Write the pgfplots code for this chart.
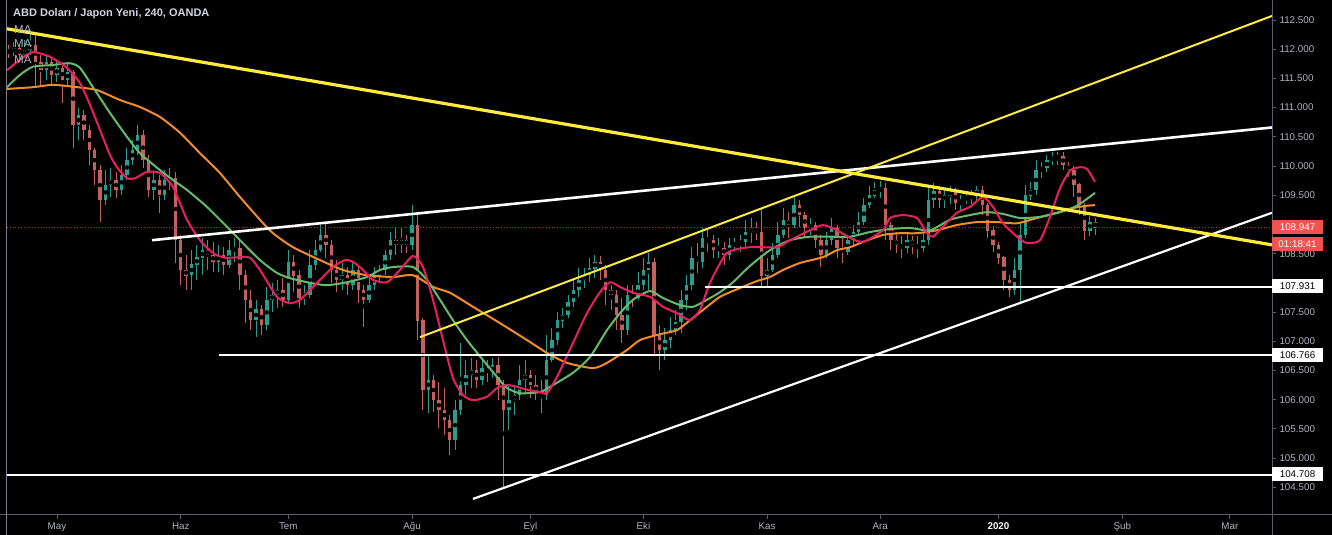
\documentclass[border=0pt]{standalone}
\usepackage{pgfplots}
\pgfplotsset{compat=1.18}
\usepackage{pgfplotstable}
\usepackage{fontspec}
\setmainfont{Liberation Sans}
\definecolor{upc}{HTML}{2A9D8F}
\definecolor{dnc}{HTML}{C4615C}
\definecolor{mared}{HTML}{E91E63}
\definecolor{magreen}{HTML}{66BB6A}
\definecolor{maorange}{HTML}{F28C28}
\definecolor{tvyellow}{HTML}{FFEB3B}
\definecolor{axisgray}{HTML}{5D606B}
\definecolor{lab}{HTML}{B2B5BE}
\definecolor{titlec}{HTML}{D1D4DC}
\definecolor{tvred}{HTML}{EF5350}
\definecolor{dotred}{HTML}{9A3434}

\pgfplotstableread{
d o h l c
-8 111.95 112.12 111.88 112.02
-6 111.90 112.16 111.85 111.99
-5 111.99 112.33 111.90 112.07
-2 111.64 111.90 111.47 111.78
0 111.56 111.82 111.44 111.68
2 111.47 111.78 111.39 111.61
4 110.70 110.99 110.45 110.87
9 109.42 109.93 109.33 109.68
10 109.68 109.97 109.47 109.76
12 109.59 110.02 109.50 109.85
13 109.85 110.31 109.76 110.10
14 110.10 110.45 110.02 110.27
15 110.27 110.70 110.19 110.53
18 109.59 109.90 109.42 109.76
20 109.50 109.93 109.42 109.76
21 109.76 109.97 109.59 109.80
25 108.13 108.56 107.88 108.31
26 108.31 108.65 108.05 108.43
27 108.43 108.77 108.13 108.56
30 108.36 108.65 108.19 108.48
32 108.31 108.73 108.25 108.56
33 108.56 108.77 108.36 108.60
37 107.36 107.71 107.07 107.54
39 107.28 107.93 107.19 107.71
40 107.71 108.00 107.50 107.79
41 107.79 108.05 107.57 107.88
43 107.71 108.56 107.67 108.36
46 107.74 107.96 107.62 107.79
47 107.79 108.56 107.74 108.31
48 108.31 108.73 108.22 108.56
49 108.56 108.99 108.53 108.82
53 108.05 108.34 107.88 108.13
55 107.96 108.36 107.88 108.22
58 107.71 108.10 107.65 107.96
59 107.96 108.27 107.88 108.13
60 108.13 108.31 108.01 108.22
61 108.22 108.56 108.13 108.48
62 108.48 108.87 108.39 108.73
64 108.65 108.96 108.51 108.73
66 108.65 109.33 108.56 108.99
69 106.17 106.76 105.77 106.34
74 105.31 105.99 105.14 105.82
75 105.82 106.97 105.74 106.25
76 106.25 106.68 106.08 106.42
77 106.42 106.71 106.20 106.51
79 106.34 106.71 106.25 106.54
81 106.47 106.71 106.37 106.59
84 105.82 106.25 105.48 105.99
85 105.99 106.25 105.74 106.08
86 106.08 106.59 105.99 106.34
87 106.34 106.68 106.11 106.42
91 106.08 107.11 105.99 106.68
92 106.68 107.23 106.64 107.02
93 107.02 107.50 106.94 107.36
94 107.36 107.57 107.23 107.45
95 107.45 107.79 107.40 107.67
96 107.67 108.08 107.59 107.88
97 107.88 108.25 107.76 108.05
98 108.05 108.25 107.91 108.13
99 108.13 108.43 108.01 108.25
100 108.25 108.48 108.08 108.36
106 107.19 107.96 107.11 107.79
108 107.74 108.19 107.71 107.96
109 107.96 108.43 107.88 108.22
110 108.22 108.51 107.88 108.36
113 106.85 107.23 106.68 107.02
114 107.02 107.41 106.88 107.19
115 107.19 107.54 107.11 107.33
116 107.33 107.88 107.14 107.71
117 107.71 108.13 107.54 107.96
118 107.96 108.61 107.88 108.43
120 108.36 108.94 108.25 108.77
123 108.56 108.77 108.43 108.60
125 108.48 108.77 108.39 108.65
126 108.65 108.77 108.53 108.68
127 108.68 108.82 108.53 108.70
128 108.70 109.08 108.60 108.87
129 108.87 109.11 108.68 108.94
132 108.13 108.43 107.91 108.22
133 108.22 108.68 108.19 108.48
134 108.48 109.04 108.43 108.82
135 108.82 109.28 108.77 109.08
137 108.99 109.47 108.94 109.33
140 108.94 109.11 108.82 108.99
143 108.48 108.87 108.43 108.73
144 108.73 109.11 108.65 108.94
147 108.53 108.82 108.48 108.73
148 108.73 108.99 108.65 108.87
149 108.87 109.21 108.82 109.04
150 109.04 109.45 108.99 109.33
151 109.33 109.66 109.28 109.50
152 109.50 109.73 109.45 109.59
153 109.59 109.74 109.45 109.62
158 108.60 108.87 108.51 108.73
161 108.60 108.87 108.53 108.73
162 108.73 109.62 108.65 109.42
163 109.42 109.71 109.28 109.56
165 109.42 109.62 109.28 109.50
166 109.50 109.66 109.35 109.56
168 109.37 109.50 109.23 109.42
169 109.42 109.56 109.35 109.47
170 109.47 109.59 109.35 109.50
171 109.50 109.66 109.42 109.59
178 107.88 108.43 107.79 108.22
179 108.22 109.04 107.65 108.82
180 108.82 109.68 108.77 109.50
181 109.50 109.73 109.42 109.59
182 109.59 110.10 109.50 109.93
183 109.93 110.07 109.80 109.97
184 109.97 110.19 109.90 110.10
185 110.10 110.24 110.02 110.14
186 110.14 110.24 110.02 110.17
192 108.90 109.14 108.80 109.04
}\upT

\pgfplotstableread{
d o h l c
-9 111.99 112.07 111.85 111.95
-7 112.02 112.09 111.82 111.90
-4 112.07 112.24 111.34 111.78
-3 111.78 111.90 111.39 111.64
-1 111.78 111.85 111.39 111.56
1 111.68 111.78 111.08 111.47
3 111.61 111.64 110.31 110.70
5 110.87 110.96 110.45 110.62
6 110.62 110.70 110.02 110.27
7 110.27 110.31 109.68 109.93
8 109.93 110.02 109.04 109.42
11 109.76 109.90 109.45 109.59
16 110.53 110.62 109.97 110.10
17 110.10 110.19 109.47 109.59
19 109.76 109.85 109.20 109.50
22 109.80 109.90 108.34 108.73
23 108.73 108.82 107.96 108.22
24 108.22 108.48 107.88 108.13
28 108.56 108.73 108.22 108.48
29 108.48 108.70 108.19 108.36
31 108.48 108.61 108.13 108.31
34 108.60 108.73 107.88 108.13
35 108.13 108.22 107.31 107.71
36 107.71 107.88 107.19 107.36
38 107.54 107.62 107.11 107.28
42 107.88 108.08 107.59 107.71
44 108.36 108.48 107.84 108.13
45 108.13 108.22 107.57 107.74
50 108.82 109.02 108.43 108.65
51 108.65 108.73 108.00 108.22
52 108.22 108.39 107.84 108.05
54 108.13 108.27 107.79 107.96
56 108.22 108.31 107.65 107.88
57 107.88 107.96 107.24 107.71
63 108.73 108.94 108.48 108.65
65 108.73 108.82 108.51 108.65
67 108.99 109.16 107.02 107.36
68 107.36 107.40 105.82 106.17
70 106.34 106.42 105.79 105.99
71 105.99 106.30 105.52 105.82
72 105.82 106.20 105.39 105.65
73 105.65 105.74 105.05 105.31
78 106.51 106.68 106.20 106.34
80 106.54 106.68 106.30 106.47
82 106.59 106.73 105.99 106.25
83 106.25 106.34 104.50 105.82
88 106.42 106.51 106.03 106.25
89 106.25 106.42 105.99 106.13
90 106.13 106.34 105.77 106.08
101 108.36 108.46 108.05 108.22
102 108.22 108.31 107.62 107.88
103 107.88 107.96 107.54 107.79
104 107.79 107.88 107.19 107.45
105 107.45 107.74 106.97 107.19
107 107.79 107.96 107.59 107.74
111 108.36 108.43 106.76 107.11
112 107.11 107.28 106.51 106.85
119 108.43 108.68 108.17 108.36
121 108.77 108.90 108.53 108.73
122 108.73 108.82 108.43 108.56
124 108.60 108.70 108.31 108.48
130 108.94 109.04 108.73 108.87
131 108.87 109.28 107.91 108.13
136 109.08 109.21 108.77 108.99
138 109.33 109.42 108.96 109.16
139 109.16 109.21 108.79 108.94
141 108.99 109.04 108.60 108.73
142 108.73 108.82 108.27 108.48
145 108.94 108.99 108.43 108.60
146 108.60 108.77 108.34 108.53
154 109.62 109.71 108.73 108.99
155 108.99 109.04 108.56 108.73
156 108.73 108.87 108.51 108.65
157 108.65 108.80 108.43 108.60
159 108.73 108.80 108.50 108.65
160 108.65 108.80 108.43 108.60
164 109.56 109.66 109.28 109.42
167 109.56 109.62 109.25 109.37
172 109.59 109.66 109.16 109.33
173 109.33 109.37 108.77 108.90
174 108.90 108.97 108.53 108.65
175 108.65 108.70 108.32 108.43
176 108.43 108.46 107.88 108.05
177 108.05 108.13 107.76 107.88
187 110.17 110.24 109.93 110.02
188 110.02 110.07 109.81 109.93
189 109.93 110.00 109.47 109.68
190 109.68 109.71 109.16 109.33
191 109.33 109.37 108.73 108.90
193 109.04 109.11 108.82 108.947
}\dnT

\pgfplotsset{
  wick/.style={only marks, mark=none, error bars/.cd, y dir=both, y explicit, error mark=none,
     error bar style={line width=1bp, draw=#1}},
  body/.style={only marks, mark=none, error bars/.cd, y dir=both, y explicit, error mark=none,
     error bar style={line width=3.4bp, draw=#1}},
}

\begin{document}
\begin{tikzpicture}[x=1bp,y=1bp]
\fill[black] (0,0) rectangle (1332,535);
\begin{axis}[
  at={(7bp,20bp)}, anchor=south west,
  scale only axis, width=1265bp, height=515bp,
  xmin=-9.29, xmax=225.84, ymin=104.025, ymax=112.843,
  axis x line*=bottom, axis y line*=right,
  axis line style={draw=none},
  clip mode=individual,
  xtick={0,23,43,66,88,109,132,153,175,198,218},
  xticklabels={May,Haz,Tem,Ağu,Eyl,Eki,Kas,Ara,{\color{white}\bfseries 2020},Şub,Mar},
  ytick={104.5,105,105.5,106,106.5,107,107.5,108,108.5,109,109.5,110,110.5,111,111.5,112,112.5},
  yticklabels={104.500,105.000,105.500,106.000,106.500,107.000,107.500,,108.500,,109.500,110.000,110.500,111.000,111.500,112.000,112.500},
  tick align=outside, major tick length=4bp,
  tick style={draw=axisgray, line width=0.7bp},
  xticklabel style={font=\fontsize{9.8bp}{10bp}\selectfont, text=lab},
  yticklabel style={font=\fontsize{9.8bp}{10bp}\selectfont, text=lab},
]
% candles
\addplot[wick=dnc] table[x=d, y expr={(\thisrow{h}+\thisrow{l})/2}, y error expr={(\thisrow{h}-\thisrow{l})/2}] {\dnT};
\addplot[wick=upc] table[x=d, y expr={(\thisrow{h}+\thisrow{l})/2}, y error expr={(\thisrow{h}-\thisrow{l})/2}] {\upT};
\addplot[body=dnc] table[x=d, y expr={(\thisrow{o}+\thisrow{c})/2}, y error expr={abs(\thisrow{o}-\thisrow{c})/2+0.004}] {\dnT};
\addplot[body=upc] table[x=d, y expr={(\thisrow{o}+\thisrow{c})/2}, y error expr={abs(\thisrow{o}-\thisrow{c})/2+0.004}] {\upT};

% current price dotted line
\addplot[dotred, line width=0.8bp, dotted] coordinates {(-9.29,108.947) (225.84,108.947)};

% moving averages
\addplot[maorange, line width=2bp, smooth, tension=0.4] coordinates {(-9.29,111.32) (-4.46,111.35) (-0.74,111.39) (3.72,111.35) (7.43,111.30) (11.71,111.13) (15.43,111.01) (19.14,110.84) (22.86,110.57) (26.58,110.22) (30.30,109.88) (34.01,109.47) (37.73,109.08) (40.15,108.85) (43.87,108.61) (48.88,108.39) (53.16,108.22) (57.62,108.13) (62.45,108.10) (66.17,108.13) (69.89,107.93) (73.05,107.83) (77.32,107.59) (82.34,107.31) (87.36,107.02) (91.08,106.80) (94.80,106.63) (99.63,106.54) (102.23,106.63) (105.95,106.85) (108.36,107.02) (112.08,107.12) (115.24,107.19) (117.66,107.36) (120.82,107.59) (123.23,107.76) (126.39,107.89) (130.11,108.03) (132.53,108.10) (134.94,108.22) (138.10,108.34) (142.38,108.44) (144.98,108.56) (147.40,108.61) (149.81,108.70) (153.53,108.82) (156.69,108.85) (159.85,108.85) (163.57,108.90) (167.29,108.99) (171.00,109.04) (174.72,109.04) (178.44,109.02) (182.16,109.11) (185.87,109.20) (188.85,109.28) (191.45,109.32) (192.94,109.33)};
\addplot[magreen, line width=2bp, smooth, tension=0.4] coordinates {(-9.29,111.35) (-6.88,111.56) (-4.46,111.70) (-0.74,111.73) (2.42,111.76) (4.28,111.68) (6.69,111.35) (9.85,110.91) (13.01,110.50) (15.43,110.22) (19.14,109.93) (21.56,109.76) (24.16,109.59) (27.88,109.30) (31.60,108.96) (34.01,108.73) (37.73,108.39) (40.89,108.17) (43.31,108.08) (47.03,108.00) (50.19,107.96) (53.90,108.01) (57.62,108.10) (60.04,108.22) (62.45,108.27) (66.17,108.27) (68.77,108.05) (71.19,107.71) (73.61,107.36) (76.21,107.02) (79.18,106.68) (81.78,106.39) (83.64,106.20) (86.06,106.11) (89.78,106.13) (91.64,106.22) (95.91,106.46) (99.07,106.73) (102.23,107.19) (104.65,107.48) (107.06,107.71) (110.22,107.86) (112.64,107.74) (115.80,107.62) (118.22,107.59) (120.82,107.71) (123.23,107.84) (125.65,108.01) (128.81,108.29) (132.53,108.56) (136.25,108.73) (139.96,108.79) (143.68,108.79) (147.40,108.79) (151.12,108.87) (154.83,108.92) (158.55,108.94) (162.27,108.90) (165.99,109.08) (169.70,109.16) (172.86,109.21) (175.84,109.18) (179.00,109.11) (182.71,109.13) (186.43,109.21) (189.59,109.32) (192.94,109.54)};
\addplot[mared, line width=2bp, smooth, tension=0.4] coordinates {(-9.29,111.64) (-6.88,111.82) (-4.46,111.95) (-1.30,111.87) (1.86,111.68) (4.28,111.42) (6.13,111.05) (7.99,110.62) (9.85,110.19) (11.15,109.98) (13.01,109.79) (14.50,109.79) (16.73,109.90) (19.14,109.88) (21.56,109.64) (24.16,109.08) (26.58,108.73) (29.00,108.51) (31.23,108.43) (34.01,108.44) (35.87,108.43) (37.73,108.22) (40.89,107.76) (43.31,107.65) (45.17,107.71) (47.03,107.88) (48.88,108.05) (51.30,108.27) (53.53,108.39) (55.02,108.36) (56.88,108.22) (58.74,108.05) (61.34,108.01) (63.75,108.22) (66.17,108.46) (68.03,108.27) (69.89,107.71) (71.75,107.02) (73.61,106.37) (75.46,106.08) (77.32,105.99) (79.93,106.05) (81.78,106.20) (83.64,106.25) (85.50,106.22) (87.36,106.17) (89.78,106.13) (91.08,106.11) (92.94,106.39) (95.91,106.97) (98.51,107.48) (100.93,107.84) (102.79,108.01) (104.65,107.93) (107.06,107.83) (110.22,107.76) (112.64,107.59) (115.24,107.48) (117.66,107.36) (119.52,107.54) (121.38,108.00) (124.54,108.51) (128.81,108.61) (133.83,108.61) (136.25,108.73) (139.96,108.90) (142.38,108.99) (144.98,108.90) (147.40,108.77) (149.81,108.70) (153.53,108.90) (154.83,109.11) (157.25,109.16) (159.85,109.11) (161.71,108.85) (162.83,108.79) (164.68,108.96) (167.29,109.20) (169.70,109.30) (172.12,109.47) (173.98,109.30) (175.84,109.02) (178.44,108.79) (180.30,108.68) (182.71,108.73) (184.57,109.13) (186.43,109.62) (188.29,109.92) (190.15,109.98) (191.45,109.95) (192.94,109.73)};

% horizontal support lines
\addplot[white, line width=2bp] coordinates {(-9.29,104.708) (225.84,104.708)};
\addplot[white, line width=2bp] coordinates {(30.11,106.766) (225.84,106.766)};
\addplot[white, line width=2bp] coordinates {(120.45,107.931) (225.84,107.931)};
% trend lines
\addplot[white, line width=2.6bp] coordinates {(17.66,108.73) (225.84,110.66)};
\addplot[white, line width=2.2bp] coordinates {(77.32,104.30) (225.84,109.20)};
\addplot[tvyellow, line width=2bp] coordinates {(67.47,107.07) (225.84,112.57)};
\addplot[tvyellow, line width=3.2bp] coordinates {(-10.6,112.37) (225.84,108.65)};
\end{axis}
% frame lines
\draw[axisgray, line width=1bp] (0,20) -- (1332,20);
\draw[axisgray, line width=1bp] (1272,0) -- (1272,535);
\draw[axisgray!80!white, line width=1bp] (6,0) -- (6,535);
% title and legend
\node[anchor=west, text=titlec, font=\fontsize{11bp}{13bp}\selectfont\bfseries, inner sep=0pt] at (13,521) {ABD Doları / Japon Yeni, 240, OANDA};
\foreach \yy in {505,491,475} {\node[anchor=west, text=lab, font=\fontsize{11.5bp}{13bp}\selectfont, inner sep=0pt] at (14,\yy) {MA};}
% price boxes
\tikzset{pbox/.style={minimum width=51bp, minimum height=14bp, inner sep=0pt, font=\fontsize{9.8bp}{10bp}\selectfont}}
\node[pbox, fill=tvred, text=white] at (1297.5,307.5) {108.947};
\node[pbox, fill=tvred, text=white] at (1297.5,291) {01:18:41};
\node[pbox, fill=white, text=black] at (1297.5,248.5) {107.931};
\node[pbox, fill=white, text=black] at (1297.5,180) {106.766};
\node[pbox, fill=white, text=black] at (1297.5,61) {104.708};
\pgfresetboundingbox
\path[use as bounding box] (0,0) rectangle (1332,535);
\end{tikzpicture}
\end{document}
